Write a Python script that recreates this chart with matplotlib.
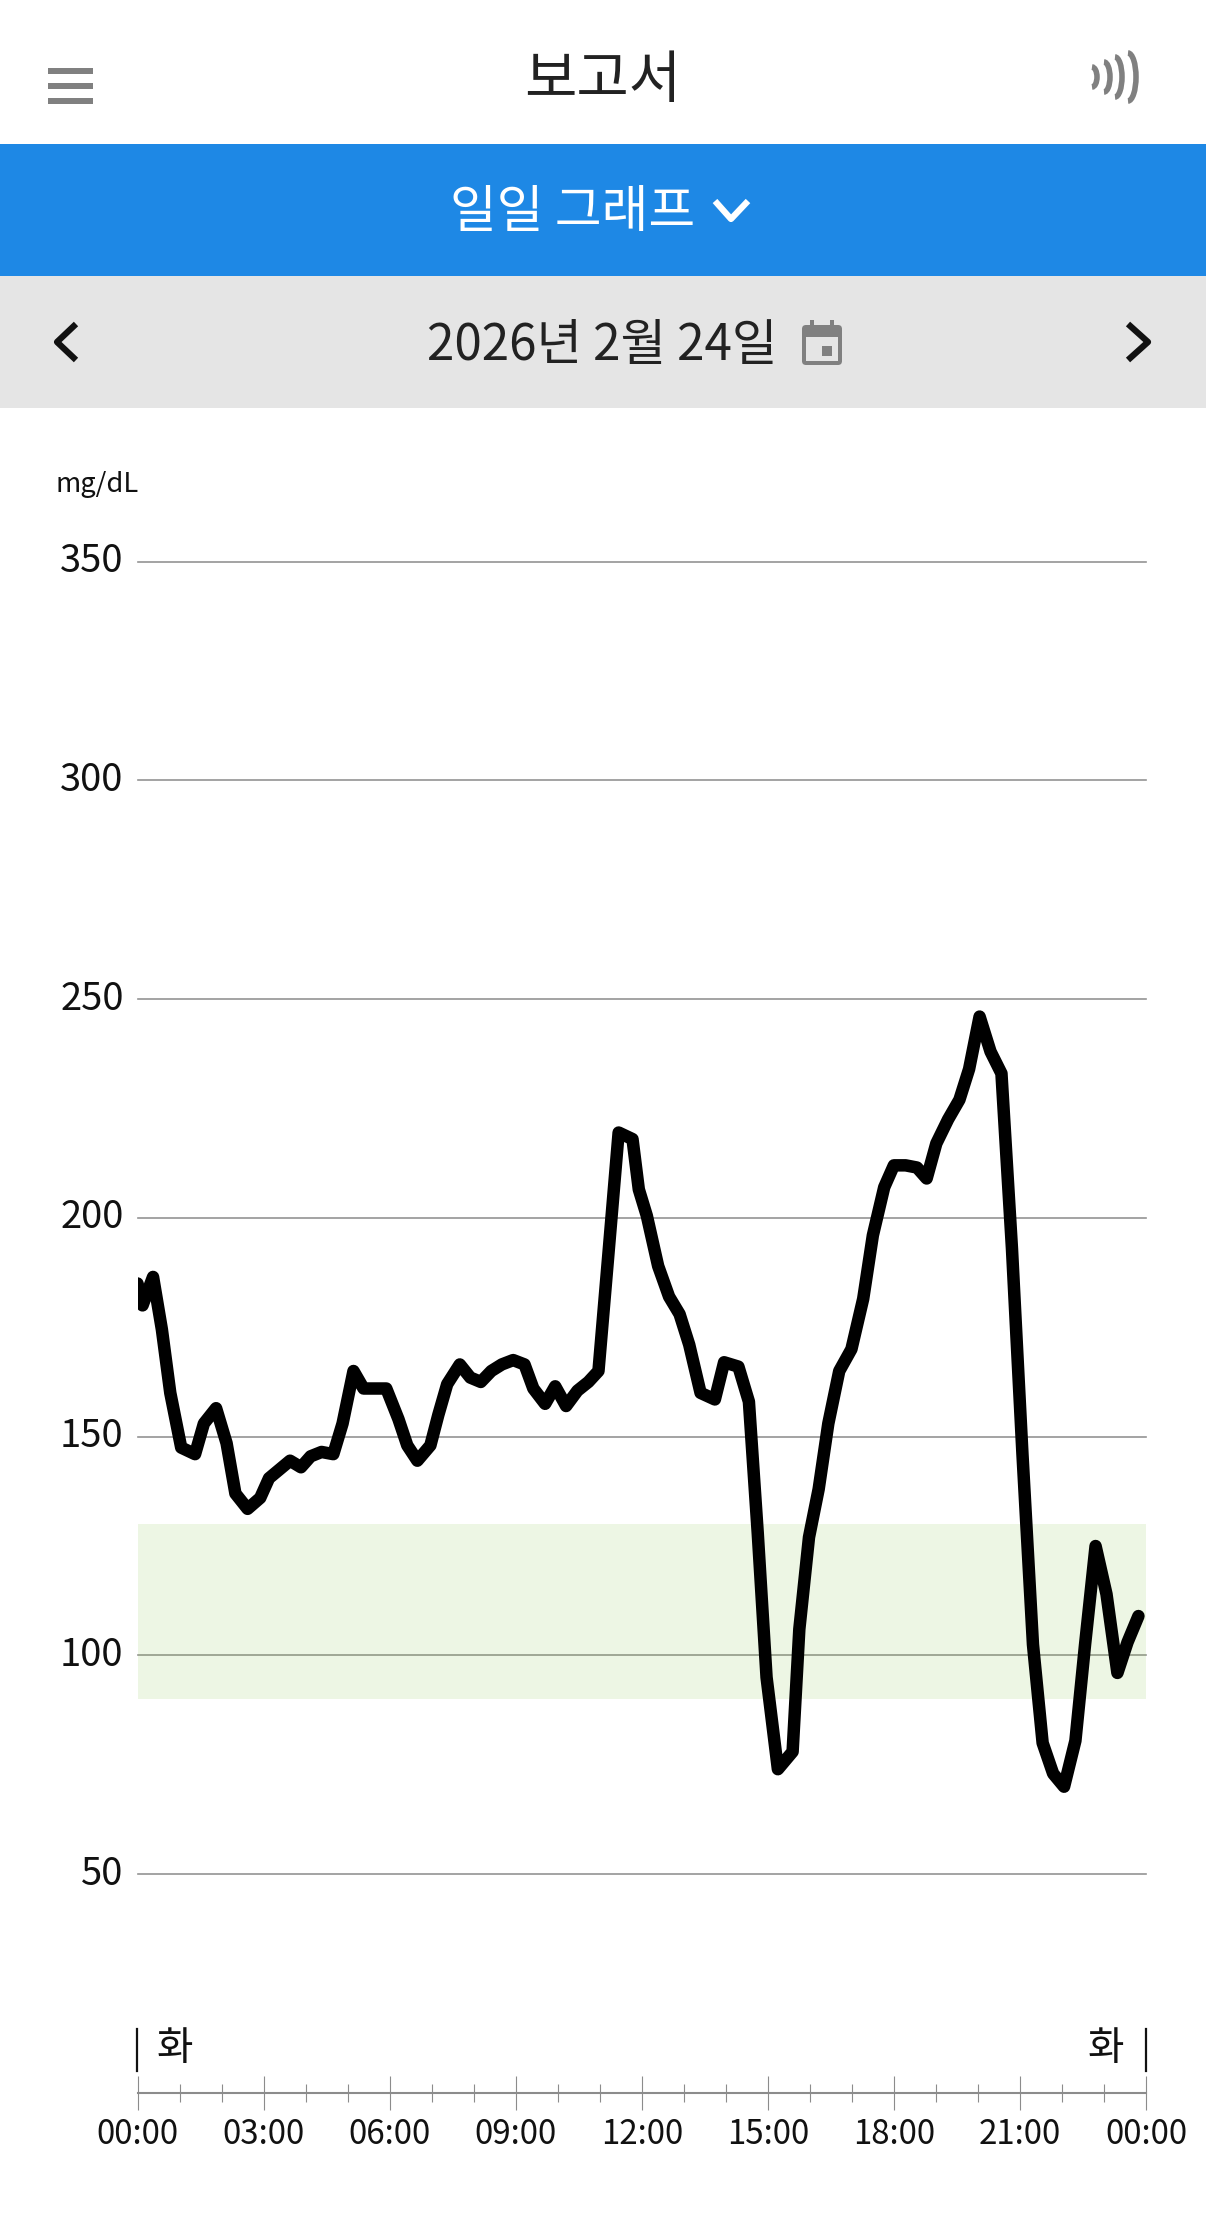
#! /usr/bin/env python3

import matplotlib
matplotlib.use("Agg")
import matplotlib.pyplot as plt
from matplotlib.patches import Arc, FancyBboxPatch, Rectangle

plt.rcParams['font.family'] = ['Noto Sans CJK KR', 'DejaVu Sans']

W, H = 1206, 2225

# glucose trace (hours since midnight, mg/dL)
hours = [0.0, 0.12, 0.37, 0.58, 0.78, 1.04, 1.37, 1.58, 1.87, 2.12, 2.33, 2.62,
         2.92, 3.13, 3.38, 3.63, 3.89, 4.12, 4.38, 4.66, 4.88, 5.14, 5.38, 5.66,
         5.92, 6.21, 6.42, 6.66, 6.97, 7.16, 7.37, 7.67, 7.92, 8.17, 8.42, 8.67,
         8.94, 9.21, 9.42, 9.70, 9.94, 10.20, 10.47, 10.73, 10.97, 11.20, 11.45,
         11.78, 11.93, 12.12, 12.39, 12.65, 12.90, 13.13, 13.40, 13.74, 13.96,
         14.30, 14.55, 14.76, 14.97, 15.24, 15.59, 15.75, 15.98, 16.21, 16.44,
         16.70, 16.99, 17.27, 17.50, 17.77, 18.00, 18.28, 18.55, 18.78, 19.01,
         19.29, 19.56, 19.79, 20.04, 20.30, 20.56, 20.81, 21.06, 21.31, 21.54,
         21.79, 22.05, 22.32, 22.55, 22.80, 23.06, 23.32, 23.56, 23.82]
glucose = [185, 180, 186.5, 174.5, 160, 147.5, 146, 153, 156.5, 148.5, 137, 133.5,
           136, 140.5, 142.5, 144.5, 143, 145.5, 146.5, 146, 153, 165, 161, 161,
           161, 154, 148, 144.5, 148, 155, 162, 166.5, 163.5, 162.5, 165, 166.5,
           167.5, 166.5, 161, 157.5, 161.5, 157, 160.5, 162.5, 165, 191, 219.5,
           218, 206.5, 200.5, 189, 182, 178, 171, 160, 158.5, 167, 166, 158,
           128, 95, 74, 78, 106, 127, 138, 153, 165, 170, 181.5, 196, 207, 212,
           212, 211.5, 209, 217, 222.5, 227, 234, 246, 238, 233, 193, 146, 102.5,
           80, 73, 70, 80.5, 102.5, 125, 114, 96, 103, 109]

y_ticks = [50, 100, 150, 200, 250, 300, 350]
x_major = [0, 3, 6, 9, 12, 15, 18, 21, 24]
x_minor = [h for h in range(25) if h % 3]
x_labels = ["00:00", "03:00", "06:00", "09:00", "12:00", "15:00", "18:00", "21:00", "00:00"]
target_low, target_high = 90, 130

TITLE = "보고서"
TAB = "일일 그래프"
DATE = "2026년 2월 24일"
UNIT = "mg/dL"
DAY = "화"

fig = plt.figure(figsize=(W / 100, H / 100), dpi=100, facecolor="white")

# chart axes: y=0 sits on the time axis, 350 on the top gridline
left, right, top, bottom = 137.5, 1146, 561.5, 2093
ax = fig.add_axes([left / W, 1 - bottom / H, (right - left) / W, (bottom - top) / H])
ax.set_xlim(0, 24)
ax.set_ylim(0, 350)
ax.patch.set_alpha(0)

for s in ["top", "left", "right"]:
    ax.spines[s].set_visible(False)
ax.spines["bottom"].set_color("#8c8c8c")
ax.spines["bottom"].set_linewidth(1.5)

ax.set_yticks(y_ticks)
ax.tick_params(axis="y", length=0, pad=10, labelsize=27.5, labelcolor="#111111")
for lab in ax.get_yticklabels():
    lab.set_verticalalignment("center")
ax.set_xticks(x_major)
ax.set_xticks(x_minor, minor=True)
ax.set_xticklabels(x_labels)
ax.tick_params(axis="x", which="major", direction="inout", length=25, width=0.8,
               color="#8c8c8c", pad=5, labelsize=23.8, labelcolor="#111111")
ax.tick_params(axis="x", which="minor", direction="inout", length=12.7, width=0.8,
               color="#8c8c8c")

ax.grid(True, axis="y", color="#949494", linewidth=1.2, zorder=1)
for gl in ax.get_ygridlines():
    gl.set_clip_on(False)  # the 350 line sits right on the axes edge
ax.set_axisbelow(True)
ax.axhspan(target_low, target_high, facecolor="#8bc34a", alpha=0.15, linewidth=0, zorder=2)
ax.plot(hours, glucose, color="black", linewidth=9.0, solid_joinstyle="round",
        solid_capstyle="round", zorder=3)

# app chrome, in pixel coordinates
ui = fig.add_axes([0, 0, 1, 1], zorder=5)
ui.set_xlim(0, W)
ui.set_ylim(H, 0)
ui.axis("off")
ui.patch.set_alpha(0)

ui.add_patch(Rectangle((0, 144), W, 132, facecolor="#1e88e5", linewidth=0))
ui.add_patch(Rectangle((0, 276), W, 132, facecolor="#e5e5e5", linewidth=0))

for y in [68, 83, 98]:
    ui.add_patch(Rectangle((48, y), 45, 6, facecolor="#808080", linewidth=0))

ui.text(603, 81, TITLE, fontsize=41, color="#222222", ha="center", va="center")
ui.text(573, 213, TAB, fontsize=36.6, color="white", ha="center", va="center")
ui.text(602, 346, DATE, fontsize=35.6, color="#222222", ha="center", va="center")
ui.text(56, 485, UNIT, fontsize=19.7, color="#111111", ha="left", va="center")

# nfc waves
for x_edge, half_w, h in [(1097, 5, 20), (1110, 6, 30), (1122, 7, 40), (1136, 8, 48)]:
    ui.add_patch(Arc((x_edge - half_w, 77), 2 * half_w, h, theta1=-90, theta2=90,
                     color="#808080", linewidth=4.0))

# chevrons
ui.plot([715, 731, 748], [201, 219, 201], color="white", linewidth=4.5, solid_capstyle="butt")
ui.plot([76, 57, 76], [324, 342, 360], color="#111111", linewidth=4.5, solid_capstyle="butt")
ui.plot([1128, 1148, 1128], [324, 342, 360], color="#111111", linewidth=4.5, solid_capstyle="butt")

# calendar icon
ui.add_patch(FancyBboxPatch((802, 325), 40, 40, boxstyle="round,pad=0,rounding_size=4",
                            facecolor="#808080", linewidth=0))
ui.add_patch(Rectangle((806, 337), 32, 24, facecolor="#e5e5e5", linewidth=0))
ui.add_patch(Rectangle((822, 346), 10, 10, facecolor="#808080", linewidth=0))
for x in [810, 830]:
    ui.add_patch(Rectangle((x, 320), 4, 7, facecolor="#808080", linewidth=0))

# day markers above the time axis
ui.plot([137, 137], [2029, 2071], color="#111111", linewidth=1.6)
ui.plot([1146, 1146], [2029, 2071], color="#111111", linewidth=1.6)
ui.text(175, 2049, DAY, fontsize=28.5, color="#111111", ha="center", va="center")
ui.text(1106, 2049, DAY, fontsize=28.5, color="#111111", ha="center", va="center")

plt.savefig("out.png", dpi=100)
